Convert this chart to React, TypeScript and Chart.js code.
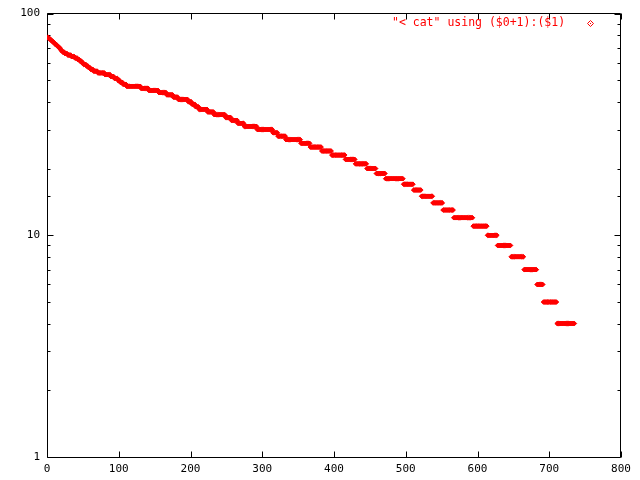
import React, { useEffect, useRef } from "react";
import { Chart, registerables } from "chart.js";

Chart.register(...registerables);

// Run-length description of the sorted series: value and how many consecutive points share it
const runValues = [
  78, 77, 76, 75, 74, 73, 72, 71, 70, 69, 68, 67, 66, 65, 64, 63, 62, 61, 60, 59,
  58, 57, 56, 55, 54, 53, 52, 51, 50, 49, 48, 47, 46, 45, 44, 43, 42, 41, 40, 39,
  38, 37, 36, 35, 34, 33, 32, 31, 30, 29, 28, 27, 26, 25, 24, 23, 22, 21, 20, 19,
  18, 17, 16, 15, 14, 13, 12, 11, 10, 9, 8, 7, 6, 5, 4,
];
const runCounts = [
  2, 2, 2, 2, 2, 2, 2, 2, 2, 1, 2, 3, 4, 5, 5, 4, 3, 3, 2, 4,
  3, 3, 4, 6, 10, 8, 5, 5, 3, 4, 5, 20, 11, 14, 11, 9, 7, 14, 5, 5,
  5, 12, 9, 16, 8, 9, 9, 18, 22, 7, 11, 21, 13, 16, 14, 19, 14, 16, 13, 13,
  25, 14, 11, 16, 14, 15, 27, 20, 14, 19, 18, 18, 9, 19, 25,
];
const xTickValues = [0, 100, 200, 300, 400, 500, 600, 700, 800];
const yMajorTicks = [1, 10, 100];
const seriesLabel = '"< cat" using ($0+1):($1)';

const RED = "#ff0000";
const MONO = '"DejaVu Sans Mono", "Liberation Mono", monospace';

function buildPoints() {
  const pts: { x: number; y: number }[] = [];
  let x = 1;
  runValues.forEach((v, i) => {
    for (let k = 0; k < runCounts[i]; k++) {
      pts.push({ x, y: v });
      x++;
    }
  });
  return pts;
}

const framePlugin = {
  id: "gnuframe",
  beforeDatasetsDraw(chart: any) {
    const { ctx, chartArea } = chart;
    const xs = chart.scales.x;
    const ys = chart.scales.y;
    const L = Math.floor(chartArea.left) + 0.5;
    const R = Math.round(chartArea.right) - 0.5;
    const T = Math.floor(chartArea.top) + 0.5;
    const B = Math.floor(chartArea.bottom) + 0.5;
    ctx.save();
    ctx.strokeStyle = "#000";
    ctx.lineWidth = 1;
    ctx.beginPath();
    ctx.rect(L, T, R - L, B - T);
    ctx.stroke();
    ctx.beginPath();
    xTickValues.forEach((v) => {
      const px = Math.round(xs.getPixelForValue(v)) + 0.5;
      ctx.moveTo(px, B);
      ctx.lineTo(px, B - 6);
      ctx.moveTo(px, T);
      ctx.lineTo(px, T + 6);
    });
    ys.ticks.forEach((t: any) => {
      const v = t.value;
      const major = yMajorTicks.includes(v);
      const len = major ? 6 : 3;
      const py = Math.round(ys.getPixelForValue(v)) + 0.5;
      ctx.moveTo(L, py);
      ctx.lineTo(L + len, py);
      ctx.moveTo(R, py);
      ctx.lineTo(R - len, py);
    });
    ctx.stroke();
    ctx.restore();
  },
  afterDraw(chart: any) {
    const { ctx } = chart;
    ctx.save();
    ctx.font = `11.5px ${MONO}`;
    ctx.fillStyle = RED;
    ctx.textBaseline = "middle";
    ctx.textAlign = "left";
    ctx.fillText(seriesLabel, 392, 23);
    // key marker
    const mx = 590.5;
    const my = 23.5;
    ctx.strokeStyle = RED;
    ctx.lineWidth = 1;
    ctx.beginPath();
    ctx.moveTo(mx, my - 3);
    ctx.lineTo(mx + 3, my);
    ctx.lineTo(mx, my + 3);
    ctx.lineTo(mx - 3, my);
    ctx.closePath();
    ctx.stroke();
    ctx.fillRect(mx - 0.5, my - 0.5, 1, 1);
    ctx.restore();
  },
};

export default function App() {
  const ref = useRef<HTMLCanvasElement | null>(null);

  useEffect(() => {
    if (!ref.current) return;
    const chart = new Chart(ref.current, {
      type: "scatter",
      data: {
        datasets: [
          {
            label: seriesLabel,
            data: buildPoints(),
            pointStyle: "rectRot",
            pointRadius: 2.3,
            pointBorderWidth: 1,
            pointBackgroundColor: RED,
            pointBorderColor: RED,
            showLine: false,
          },
        ],
      },
      options: {
        responsive: false,
        animation: false,
        events: [],
        layout: { padding: { top: 13, right: 19, left: 0, bottom: 0 } },
        plugins: {
          legend: { display: false },
          tooltip: { enabled: false },
          title: { display: false },
        },
        scales: {
          x: {
            type: "linear",
            min: 0,
            max: 800,
            border: { display: false },
            grid: { display: false, drawTicks: false },
            afterBuildTicks: (s: any) => {
              s.ticks = xTickValues.map((v) => ({ value: v }));
            },
            afterFit: (s: any) => {
              s.height = 23;
            },
            ticks: {
              color: "#000",
              font: { family: MONO, size: 11 },
              padding: 6,
              maxRotation: 0,
              autoSkip: false,
            },
          },
          y: {
            type: "logarithmic",
            min: 1,
            max: 100,
            border: { display: false },
            grid: { display: false, drawTicks: false },
            afterFit: (s: any) => {
              s.width = 47;
            },
            ticks: {
              color: "#000",
              font: { family: MONO, size: 11 },
              padding: 7,
              autoSkip: false,
              callback: (v: any) => (yMajorTicks.includes(Number(v)) ? String(v) : ""),
            },
          },
        },
      },
      plugins: [framePlugin],
    });
    return () => chart.destroy();
  }, []);

  return (
    <div
      style={{
        position: "absolute",
        left: 0,
        top: 0,
        width: 640,
        height: 480,
        background: "#fff",
      }}
    >
      <canvas ref={ref} width={640} height={480} style={{ display: "block" }} />
    </div>
  );
}
